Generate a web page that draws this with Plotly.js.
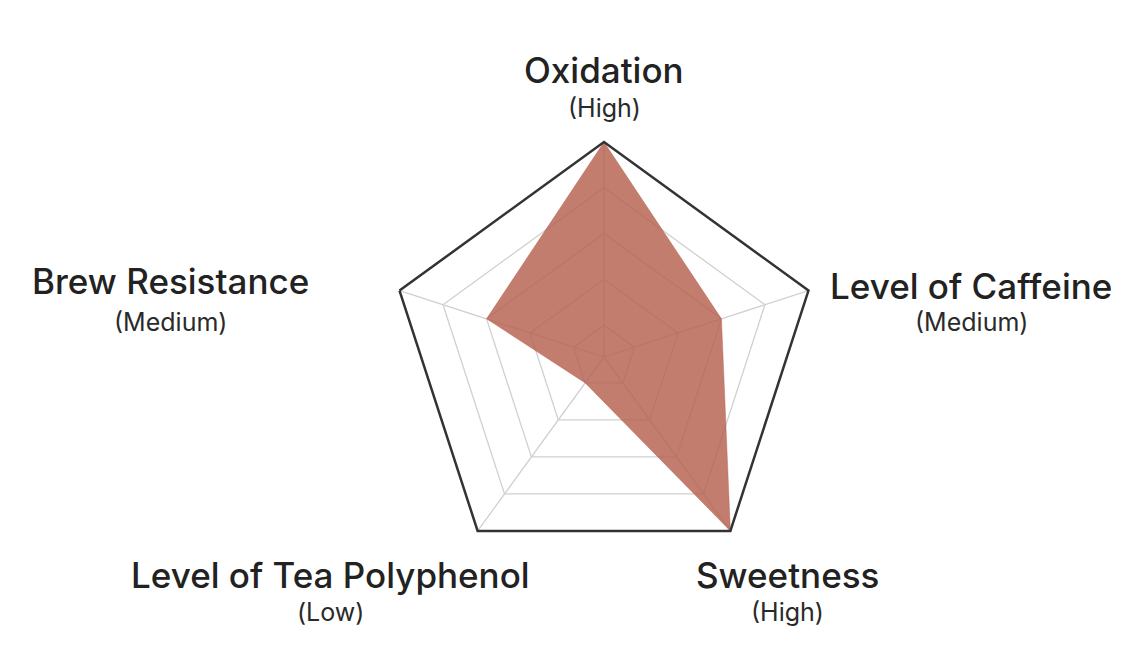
<!DOCTYPE html>
<html>
<head>
<meta charset="utf-8">
<script src="https://cdn.plot.ly/plotly-3.0.1.min.js"></script>
<style>
html,body{margin:0;padding:0;background:#fff;}
#chart{width:1135px;height:667px;}
</style>
</head>
<body>
<div id="chart"></div>
<script>
// Data
const categories = ["Oxidation", "Level of Caffeine", "Sweetness", "Level of Tea Polyphenol", "Brew Resistance"];
const levels = ["High", "Medium", "High", "Low", "Medium"];
const values = [5, 3, 5, 1, 3];
const ringValues = [1, 2, 3, 4, 5];

// Label placement (pixel centres of title / sub-label)
const W = 1135, H = 667;
const labelPos = [
  {x: 604, y1: 70, y2: 108},
  {x: 971, y1: 286, y2: 322},
  {x: 787, y1: 575, y2: 612},
  {x: 330, y1: 575, y2: 612},
  {x: 170, y1: 281, y2: 322}
];

const trace = {
  type: 'scatterpolar',
  r: values.concat([values[0]]),
  theta: categories.concat([categories[0]]),
  mode: 'lines',
  fill: 'toself',
  fillcolor: 'rgba(182,96,78,0.82)',
  line: {color: 'rgba(182,96,78,0.82)', width: 0.5},
  hoverinfo: 'skip'
};

const annotations = [];
categories.forEach((c, i) => {
  const p = labelPos[i];
  annotations.push({
    xref: 'paper', yref: 'paper', x: p.x / W, y: 1 - p.y1 / H,
    xanchor: 'center', yanchor: 'middle', showarrow: false,
    text: c,
    font: {family: 'Inter, "Noto Sans", sans-serif', size: 35, color: '#222', weight: 500}
  });
  annotations.push({
    xref: 'paper', yref: 'paper', x: p.x / W, y: 1 - p.y2 / H,
    xanchor: 'center', yanchor: 'middle', showarrow: false,
    text: '(' + levels[i] + ')',
    font: {family: 'Inter, "Noto Sans", sans-serif', size: 25, color: '#2a2a2a'}
  });
});

const cx = 604, cy = 357, R = 215;
const layout = {
  width: W, height: H,
  margin: {l: 0, r: 0, t: 0, b: 0},
  paper_bgcolor: '#fff',
  showlegend: false,
  polar: {
    domain: {x: [(cx - R) / W, (cx + R) / W], y: [1 - (cy + R) / H, 1 - (cy - R) / H]},
    bgcolor: 'rgba(0,0,0,0)',
    gridshape: 'linear',
    radialaxis: {
      range: [0.3, 5],
      tickvals: ringValues,
      showticklabels: false,
      ticks: '',
      showline: false,
      gridcolor: '#d0d0d0',
      gridwidth: 1.3
    },
    angularaxis: {
      direction: 'clockwise',
      rotation: 90,
      showticklabels: false,
      ticks: '',
      showline: true,
      linecolor: '#333',
      linewidth: 2.5,
      gridcolor: '#d0d0d0',
      gridwidth: 1.3,
      layer: 'above traces'
    }
  },
  annotations: annotations
};

Plotly.newPlot('chart', [trace], layout, {displayModeBar: false, staticPlot: true});
</script>
</body>
</html>
